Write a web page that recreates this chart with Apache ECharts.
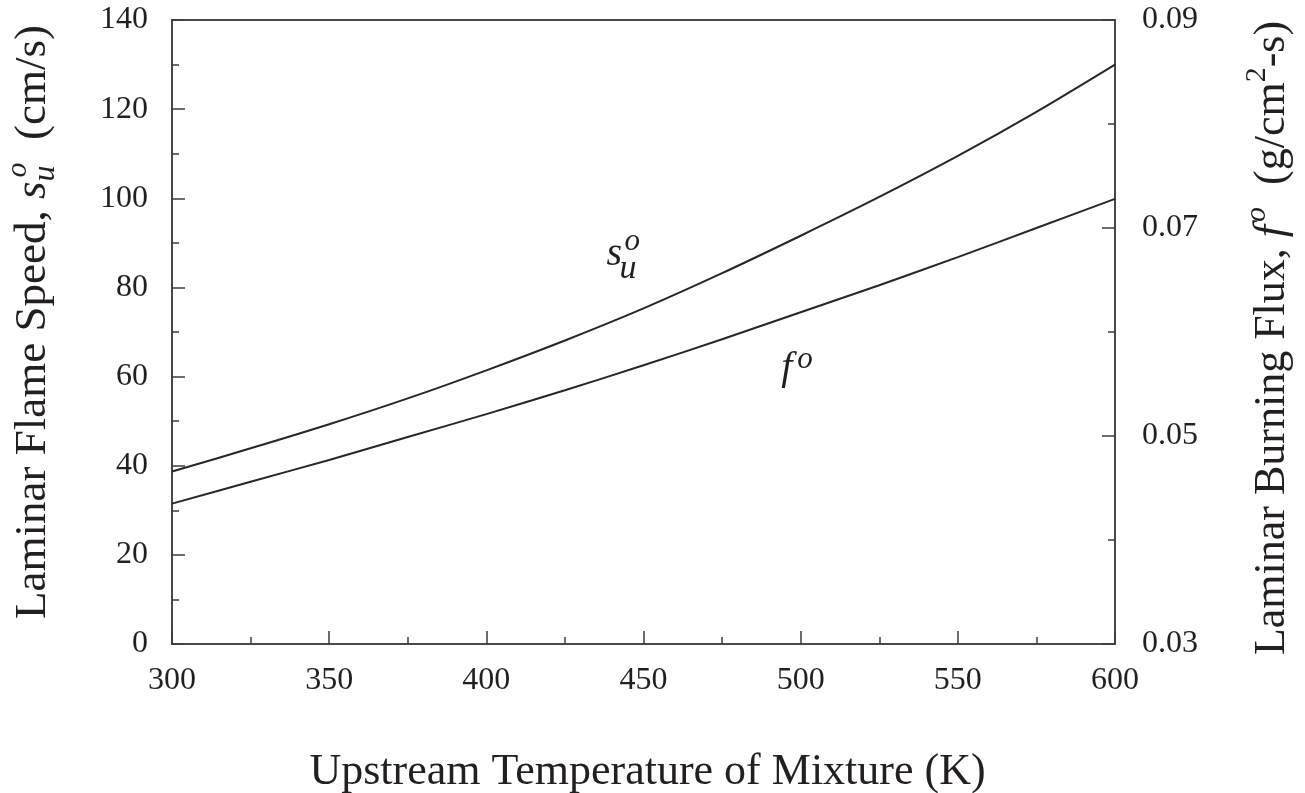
<!DOCTYPE html>
<html>
<head>
<meta charset="utf-8">
<script src="https://cdn.jsdelivr.net/npm/echarts@6/dist/echarts.min.js"></script>
<style>
  html, body { margin: 0; padding: 0; background: #ffffff; }
  #chart { width: 1305px; height: 793px; }
</style>
</head>
<body>
<div id="chart"></div>
<script>
// ---------------- data ----------------
const temperatures = [300, 325, 350, 375, 400, 425, 450, 475, 500, 525, 550, 575, 600];
const flameSpeed   = [38.7, 43.9, 49.3, 55.1, 61.4, 68.1, 75.3, 83.2, 91.6, 100.3, 109.5, 119.4, 130.0];
const burningFlux  = [0.0435, 0.0456, 0.0477, 0.0499, 0.0521, 0.0544, 0.0568, 0.0593, 0.0619, 0.0645, 0.0672, 0.0700, 0.0728];
const xTicks = { min: 300, max: 600, step: 50 };
const leftTicks = { min: 0, max: 140, step: 20 };
const rightTicks = { min: 0.03, max: 0.09, step: 0.02 };
// annotation anchors in data units (temperature, flame speed)
const suLabelAt = [438.2, 84.6];
const foLabelAt = [493.8, 59.0];

// ---------------- style ----------------
const FONT = '"Liberation Serif", "Times New Roman", serif';
const TEXT = '#231f20';
const AXIS = '#3d3d3d';
const LINE = '#262626';

const chart = echarts.init(document.getElementById('chart'), null, { renderer: 'canvas' });

const axisCommon = {
  axisLine: { show: true, lineStyle: { color: AXIS, width: 1.5 } },
  axisTick: { show: true, inside: true, length: 13, lineStyle: { color: AXIS, width: 1.5 } },
  minorTick: { show: true, splitNumber: 2, length: 7, lineStyle: { color: AXIS, width: 1.5 } },
  splitLine: { show: false },
  minorSplitLine: { show: false }
};

chart.setOption({
  animation: false,
  backgroundColor: '#ffffff',
  grid: { left: 172, right: 190, top: 20, bottom: 149, show: true, borderColor: AXIS, borderWidth: 1.5, backgroundColor: 'transparent' },
  xAxis: [
    Object.assign({
      type: 'value', min: xTicks.min, max: xTicks.max, interval: xTicks.step, position: 'bottom',
      axisLabel: { fontFamily: FONT, fontSize: 32, color: TEXT, margin: 21 }
    }, axisCommon),
    {
      type: 'value', min: xTicks.min, max: xTicks.max, position: 'top',
      axisLine: { show: true, lineStyle: { color: AXIS, width: 1.5 } },
      axisTick: { show: false }, axisLabel: { show: false }, splitLine: { show: false }
    }
  ],
  yAxis: [
    Object.assign({
      type: 'value', min: leftTicks.min, max: leftTicks.max, interval: leftTicks.step, position: 'left',
      axisLabel: { fontFamily: FONT, fontSize: 32, color: TEXT, margin: 24 }
    }, axisCommon),
    Object.assign({
      type: 'value', min: rightTicks.min, max: rightTicks.max, interval: rightTicks.step, position: 'right',
      axisLabel: { fontFamily: FONT, fontSize: 32, color: TEXT, margin: 27, formatter: v => v.toFixed(2) }
    }, axisCommon)
  ],
  series: [
    {
      name: 'flame speed', type: 'line', xAxisIndex: 0, yAxisIndex: 0, smooth: 0.3,
      showSymbol: false, lineStyle: { color: LINE, width: 2 },
      data: temperatures.map((t, i) => [t, flameSpeed[i]])
    },
    {
      name: 'burning flux', type: 'line', xAxisIndex: 0, yAxisIndex: 1, smooth: 0.3,
      showSymbol: false, lineStyle: { color: LINE, width: 2 },
      data: temperatures.map((t, i) => [t, burningFlux[i]])
    }
  ]
});

// ---------------- text helpers ----------------
const mctx = document.createElement('canvas').getContext('2d');
function fontStr(size, italic) { return (italic ? 'italic ' : '') + size + 'px ' + FONT; }
function measure(t, size, italic) { mctx.font = fontStr(size, italic); return mctx.measureText(t).width; }
// text positioned by baseline
function txt(x, baseline, t, size, italic) {
  return {
    type: 'text', x: x, y: baseline - 0.305 * size, silent: true,
    style: { text: t, font: fontStr(size, italic), fill: TEXT, align: 'left', verticalAlign: 'middle' }
  };
}
// a line of pieces rotated to read bottom-to-top, centred at (cx, cy); baseline offset along local y
function rotatedTitle(cx, cy, pieces, mainSize) {
  const base = 0.305 * mainSize;
  let cursor = 0;
  const children = [];
  pieces.forEach(p => {
    if (p.stack) {
      let adv = 0;
      p.stack.forEach(q => {
        children.push(txt(cursor + (q.dx || 0), base + (q.dy || 0), q.t, q.size, q.italic));
        adv = Math.max(adv, (q.dx || 0) + measure(q.t, q.size, q.italic));
      });
      cursor += adv;
    } else {
      children.push(txt(cursor + (p.dx || 0), base + (p.dy || 0), p.t, p.size, p.italic));
      cursor += (p.dx || 0) + measure(p.t, p.size, p.italic);
    }
  });
  children.forEach(c => { c.x -= cursor / 2; });
  return { type: 'group', x: cx, y: cy, rotation: Math.PI / 2, children: children };
}

function drawAnnotations() {
  const su = chart.convertToPixel({ gridIndex: 0 }, suLabelAt);
  const fo = chart.convertToPixel({ gridIndex: 0 }, foLabelAt);
  const gridRect = { left: 172, right: 1115 };
  const graphics = [
    // x-axis title
    {
      type: 'text', x: (gridRect.left + gridRect.right) / 2 + 4, y: 772, silent: true,
      style: { text: 'Upstream Temperature of Mixture (K)', font: fontStr(44, false), fill: TEXT, align: 'center', verticalAlign: 'middle' }
    },
    // left title
    rotatedTitle(33, 322, [
      { t: 'Laminar Flame Speed, ', size: 45 },
      { t: 's', size: 45, italic: true },
      { stack: [ { t: 'u', size: 32, italic: true, dy: 9 }, { t: 'o', size: 30, italic: true, dy: -19, dx: 4 } ] },
      { t: '  (cm/s)', size: 45 }
    ], 45),
    // right title
    rotatedTitle(1272, 338, [
      { t: 'Laminar Burning Flux, ', size: 44 },
      { t: 'f', size: 44, italic: true },
      { t: 'o', size: 30, italic: true, dy: -19, dx: 3 },
      { t: '  (g/cm', size: 44 },
      { t: '2', size: 30, dy: -19 },
      { t: '-s)', size: 44 }
    ], 44),
    // in-plot labels
    txt(su[0], su[1], 's', 40, true),
    txt(su[0] + 13, su[1] + 13, 'u', 34, true),
    txt(su[0] + 18, su[1] - 16, 'o', 31, true),
    txt(fo[0], fo[1], 'f', 40, true),
    txt(fo[0] + 16, fo[1] - 12, 'o', 31, true)
  ];
  chart.setOption({ graphic: graphics });
}
drawAnnotations();
</script>
</body>
</html>
